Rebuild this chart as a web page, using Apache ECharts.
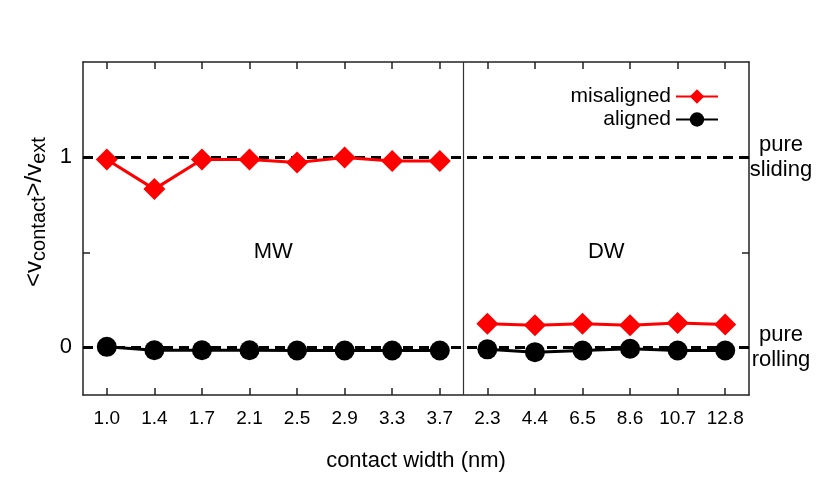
<!DOCTYPE html>
<html>
<head>
<meta charset="utf-8">
<script src="https://cdn.jsdelivr.net/npm/echarts@6/dist/echarts.min.js"></script>
<style>
  html, body { margin: 0; padding: 0; background: #fff; }
  #chart { width: 830px; height: 498px; }
</style>
</head>
<body>
<div id="chart"></div>
<script>
  // contact widths (nm) for the two groups
  let mwCats = ['1.0', '1.4', '1.7', '2.1', '2.5', '2.9', '3.3', '3.7']
  let dwCats = ['2.3', '4.4', '6.5', '8.6', '10.7', '12.8']
  // <v_contact>/v_ext
  let mwMisaligned = [0.988, 0.832, 0.988, 0.988, 0.972, 0.998, 0.980, 0.980]
  let dwMisaligned = [0.125, 0.116, 0.124, 0.116, 0.128, 0.121]
  let mwAligned = [0.003, -0.015, -0.015, -0.015, -0.016, -0.016, -0.016, -0.016]
  let dwAligned = [-0.010, -0.025, -0.016, -0.007, -0.016, -0.016]
  let refLines = [0, 1]
  let refNames = { 1: 'pure\nsliding', 0: 'pure\nrolling' }
  let groupNames = ['MW', 'DW']

  let cats = mwCats.concat(dwCats)
  let font = 'Liberation Sans, Arial, sans-serif'
  let axisCol = '#222'

  function toPairs (arr, offset) {
    return arr.map((v, i) => [offset + i, v])
  }

  let chart = echarts.init(document.getElementById('chart'))

  let redStyle = {
    type: 'line',
    name: 'misaligned',
    symbol: 'diamond',
    symbolSize: 22,
    color: '#ff0000',
    lineStyle: { width: 3, color: '#ff0000' },
    z: 5
  }
  let blackStyle = {
    type: 'line',
    name: 'aligned',
    symbol: 'circle',
    symbolSize: 20,
    color: '#000',
    lineStyle: { width: 3, color: '#000' },
    z: 4
  }

  let tickStyle = { show: true, inside: true, length: 7, lineStyle: { color: axisCol, width: 1.5 } }
  let lineStyle = { show: true, onZero: false, lineStyle: { color: axisCol, width: 1.5 } }

  chart.setOption({
    animation: false,
    textStyle: { fontFamily: font, color: '#000' },
    grid: { left: 83, right: 81, top: 62, bottom: 103 },
    legend: {
      orient: 'vertical',
      right: 106,
      top: 81,
      align: 'right',
      itemWidth: 42,
      itemHeight: 18,
      itemGap: 2,
      textStyle: { fontSize: 21, fontFamily: font, color: '#000' },
      data: ['misaligned', 'aligned']
    },
    graphic: [{
      type: 'text',
      x: 34,
      y: 212,
      rotation: Math.PI / 2,
      style: {
        text: '{m|<v}{s|contact}{m|>/v}{s|ext}',
        align: 'center',
        verticalAlign: 'middle',
        rich: {
          m: { fontSize: 24, fontFamily: font, fill: '#000', lineHeight: 30, verticalAlign: 'middle' },
          s: { fontSize: 20, fontFamily: font, fill: '#000', lineHeight: 18, verticalAlign: 'bottom' }
        }
      }
    }],
    xAxis: [
      {
        type: 'category',
        data: cats,
        position: 'bottom',
        name: 'contact width (nm)',
        nameLocation: 'middle',
        nameGap: 55,
        nameTextStyle: { fontSize: 22, fontFamily: font, color: '#000' },
        axisLine: lineStyle,
        axisTick: Object.assign({ alignWithLabel: true, interval: 0 }, tickStyle),
        axisLabel: { fontSize: 19, margin: 14, interval: 0, hideOverlap: false, color: '#000', fontFamily: font },
        splitLine: { show: false }
      },
      {
        type: 'category',
        data: cats,
        position: 'top',
        axisLine: lineStyle,
        axisTick: Object.assign({ alignWithLabel: true, interval: 0 }, tickStyle),
        axisLabel: { show: false, interval: 0 },
        splitLine: { show: false }
      },
      {
        type: 'value',
        min: -0.5,
        max: cats.length - 0.5,
        show: false
      }
    ],
    yAxis: [
      {
        type: 'value',
        min: -0.25,
        max: 1.5,
        interval: 0.25,
        position: 'left',
        axisLine: lineStyle,
        axisTick: Object.assign({ customValues: [0, 0.5, 1] }, tickStyle),
        axisLabel: { fontSize: 22, margin: 11, color: '#000', fontFamily: font, customValues: refLines },
        splitLine: { show: false }
      },
      {
        type: 'value',
        min: -0.25,
        max: 1.5,
        interval: 0.25,
        position: 'right',
        axisLine: lineStyle,
        axisTick: Object.assign({ customValues: [0, 0.5, 1] }, tickStyle),
        axisLabel: {
          fontSize: 22, margin: 32, align: 'center', lineHeight: 25, padding: [4, 0, 0, 0], color: '#000', fontFamily: font,
          customValues: refLines,
          formatter: (v) => refNames[v] || ''
        },
        splitLine: { show: false }
      }
    ],
    series: [
      {
        // divider, reference lines and group names
        type: 'line',
        xAxisIndex: 2,
        yAxisIndex: 0,
        data: [],
        silent: true,
        z: 1,
        markLine: {
          silent: true,
          symbol: 'none',
          label: { show: false },
          data: [
            { xAxis: mwCats.length - 0.5, lineStyle: { color: '#333', width: 1.2, type: 'solid' } }
          ].concat(refLines.map((v) => ({
            yAxis: v,
            lineStyle: { color: '#000', width: 3, type: [10, 6] }
          })))
        },
        markPoint: {
          symbol: 'circle',
          symbolSize: 0,
          label: { show: true, position: 'inside', fontSize: 22, fontFamily: font, color: '#000', formatter: (p) => p.name },
          data: [
            { name: groupNames[0], coord: [(mwCats.length - 1) / 2, 0.5] },
            { name: groupNames[1], coord: [mwCats.length + (dwCats.length - 1) / 2, 0.5] }
          ]
        }
      },
      Object.assign({}, redStyle, { data: toPairs(mwMisaligned, 0) }),
      Object.assign({}, redStyle, { data: toPairs(dwMisaligned, mwCats.length) }),
      Object.assign({}, blackStyle, { data: toPairs(mwAligned, 0) }),
      Object.assign({}, blackStyle, { data: toPairs(dwAligned, mwCats.length) })
    ]
  })
</script>
</body>
</html>
